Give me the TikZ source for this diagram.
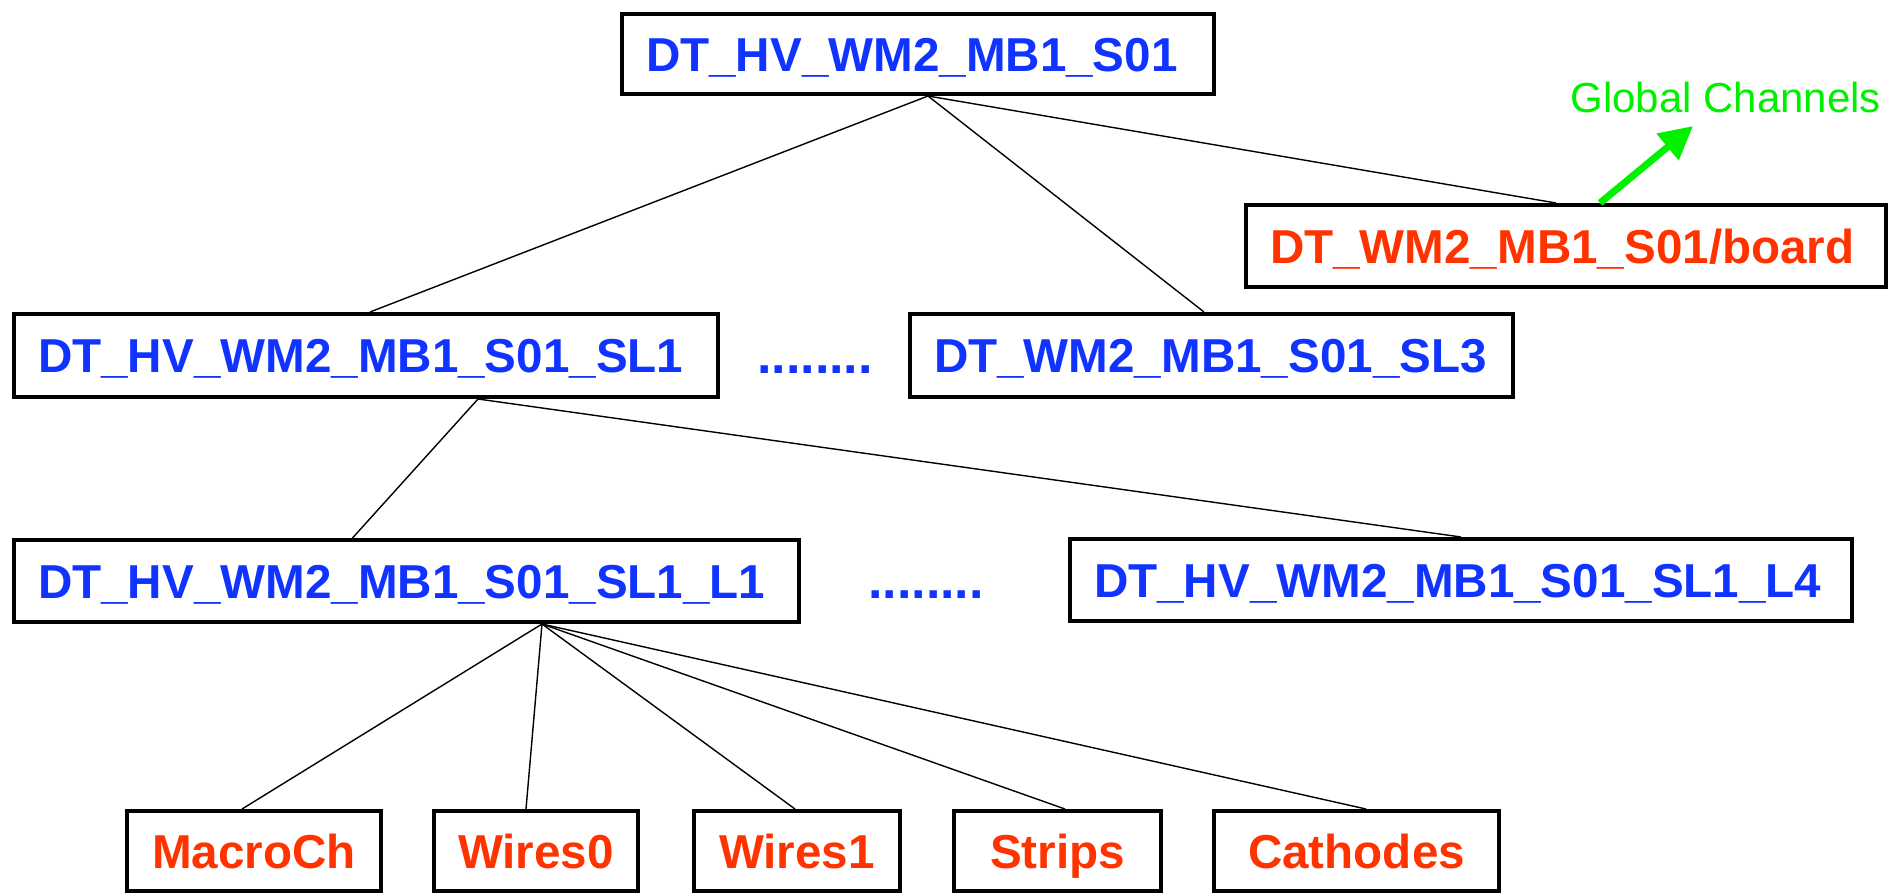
\documentclass[tikz,border=0pt]{standalone}
\usepackage{fontspec}
\setmainfont{Liberation Sans}
\usetikzlibrary{arrows.meta}
\definecolor{nblue}{RGB}{17,51,255}
\definecolor{nred}{RGB}{255,51,0}
\definecolor{ngreen}{RGB}{0,240,0}
\begin{document}
\begin{tikzpicture}[x=0.5pt,y=-0.5pt,
  bx/.style={draw=black, line width=2pt, fill=white, anchor=north west,
    inner xsep=12pt, inner ysep=0pt, align=left,
    text height=17pt, text depth=0pt,
    font=\bfseries\fontsize{23.8}{28}\selectfont},
  leaf/.style={draw=black, line width=2pt, fill=white, anchor=north west,
    inner xsep=0pt, inner ysep=0pt, align=center,
    text height=17pt, text depth=0pt, minimum height=40pt, text=nred,
    font=\bfseries\fontsize{23.8}{28}\selectfont},
  dots/.style={text=nblue, font=\bfseries\fontsize{26}{30}\selectfont, anchor=base},
  conn/.style={draw=black, line width=0.7pt},
  garrow/.style={draw=ngreen, line width=3.5pt, -{Triangle[length=16.5pt,width=16.5pt]}}
]
\useasboundingbox (0,0) rectangle (1888,894);

% boxes
\node[bx, text=nblue, text width=272pt, minimum height=40pt] (top) at (620,12) {DT\_HV\_WM2\_MB1\_S01};
\node[bx, text=nred, text width=296pt, minimum height=41pt] (board) at (1244,203) {DT\_WM2\_MB1\_S01/board};
\node[bx, text=nblue, text width=328pt, minimum height=41.5pt] (sl1) at (12,312) {DT\_HV\_WM2\_MB1\_S01\_SL1};
\node[bx, text=nblue, text width=277.5pt, minimum height=41.5pt] (sl3) at (908,312) {DT\_WM2\_MB1\_S01\_SL3};
\node[bx, text=nblue, text width=368.5pt, minimum height=41pt] (l1) at (12,538) {DT\_HV\_WM2\_MB1\_S01\_SL1\_L1};
\node[bx, text=nblue, text width=367pt, minimum height=41pt] (l4) at (1068,537) {DT\_HV\_WM2\_MB1\_S01\_SL1\_L4};

\node[leaf, minimum width=127pt] (macro) at (125,809) {MacroCh};
\node[leaf, minimum width=102pt] (w0) at (432,809) {Wires0};
\node[leaf, minimum width=103pt] (w1) at (692,809) {Wires1};
\node[leaf, minimum width=103.5pt] (strips) at (952,809) {Strips};
\node[leaf, minimum width=142.5pt] (cath) at (1212,809) {Cathodes};

% ellipses
\node[dots] (dotsA) at (815,373) {........};
\node[dots] (dotsB) at (926,598) {........};

% global channels
\node[anchor=base west, inner sep=0pt, text=ngreen, font=\fontsize{21}{25}\selectfont] (gclabel) at (1570,112) {Global Channels};
\coordinate (gc) at (1693,126);

% connectors
\draw[conn] ([xshift=5pt]top.south) -- ([xshift=2pt]sl1.north);
\draw[conn] ([xshift=5pt]top.south) -- ([xshift=-3.75pt]sl3.north);
\draw[conn] ([xshift=5pt]top.south) -- ([xshift=-5pt]board.north);
\draw[conn] ([xshift=56pt]sl1.south) -- ([xshift=-27pt]l1.north);
\draw[conn] ([xshift=56pt]sl1.south) -- (l4.north);
\draw[conn] ([xshift=67.75pt]l1.south) -- ([xshift=-6pt]macro.north);
\draw[conn] ([xshift=67.75pt]l1.south) -- ([xshift=-5pt]w0.north);
\draw[conn] ([xshift=67.75pt]l1.south) -- ([xshift=-1pt]w1.north);
\draw[conn] ([xshift=67.75pt]l1.south) -- ([xshift=3.75pt]strips.north);
\draw[conn] ([xshift=67.75pt]l1.south) -- ([xshift=4.75pt]cath.north);

\draw[garrow] ([xshift=17pt]board.north) -- (gc);
\end{tikzpicture}
\end{document}
